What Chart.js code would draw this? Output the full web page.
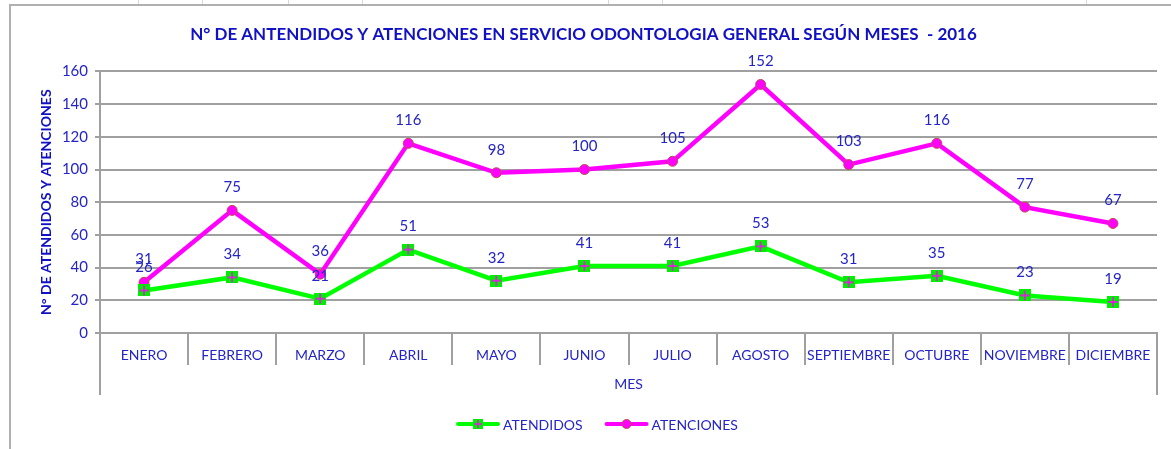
<!DOCTYPE html>
<html><head><meta charset="utf-8">
<script src="https://cdn.jsdelivr.net/npm/chart.js@4/dist/chart.umd.min.js"></script>
<style>html,body{margin:0;padding:0;background:#fff}#wrap{width:1171px;height:449px}</style>
</head><body><div id="wrap"><canvas id="c" width="1171" height="449"></canvas></div>
<script>
const categories = ['ENERO','FEBRERO','MARZO','ABRIL','MAYO','JUNIO','JULIO','AGOSTO','SEPTIEMBRE','OCTUBRE','NOVIEMBRE','DICIEMBRE'];
const atendidos = [26,34,21,51,32,41,41,53,31,35,23,19];
const atenciones = [31,75,36,116,98,100,105,152,103,116,77,67];
const yTicks = [0,20,40,60,80,100,120,140,160];
const titleText = 'N° DE ANTENDIDOS Y ATENCIONES EN SERVICIO ODONTOLOGIA GENERAL SEGÚN MESES  - 2016';
const yTitle = 'N° DE ATENDIDOS Y ATENCIONES';
const xTitle = 'MES';

const FONT = "Lato, 'Open Sans', sans-serif";
const BLUE = '#2424c8';
const GRID = '#a0a0a0';

function makeSquarePlus(){
  const c = document.createElement('canvas'); c.width = 12; c.height = 12;
  const g = c.getContext('2d');
  g.fillStyle = '#00ee00'; g.fillRect(0,0,12,12);
  g.strokeStyle = '#ff00ff'; g.lineWidth = 1.5;
  g.beginPath(); g.moveTo(6,1); g.lineTo(6,11); g.moveTo(1,6); g.lineTo(11,6); g.stroke();
  return c;
}
const sqPlus = makeSquarePlus();

const framePlugin = {
  id:'frame',
  beforeDraw(chart){
    const ctx = chart.ctx;
    ctx.save();
    ctx.fillStyle='#fff'; ctx.fillRect(0,0,chart.width,chart.height);
    ctx.strokeStyle='#b0b0b0'; ctx.lineWidth=2;
    ctx.beginPath(); ctx.moveTo(9,5); ctx.lineTo(chart.width,5); ctx.moveTo(10,5); ctx.lineTo(10,chart.height); ctx.stroke();
    ctx.strokeStyle='#d8d8d8'; ctx.lineWidth=1;
    ctx.beginPath();
    [138,202,288,362,608,662,1086].forEach(x=>{ctx.moveTo(x+0.5,0);ctx.lineTo(x+0.5,4);});
    ctx.stroke();
    ctx.restore();
  },
  afterDraw(chart){
    const ctx = chart.ctx, xs = chart.scales.x, a = chart.chartArea;
    ctx.save();
    ctx.strokeStyle = GRID; ctx.lineWidth = 2;
    ctx.beginPath();
    const n = categories.length;
    const half = (xs.getPixelForValue(1) - xs.getPixelForValue(0)) / 2;
    for (let i=0;i<=n;i++){
      const x = i<n ? xs.getPixelForValue(i) - half : xs.getPixelForValue(n-1) + half;
      const y2 = (i===0||i===n) ? a.bottom + 62 : a.bottom + 32;
      ctx.moveTo(Math.round(x), a.bottom); ctx.lineTo(Math.round(x), y2);
    }
    ctx.stroke();
    // data labels
    ctx.fillStyle = BLUE; ctx.font = "15px " + FONT; ctx.textAlign='center'; ctx.textBaseline='middle';
    chart.data.datasets.forEach((ds, di)=>{
      const meta = chart.getDatasetMeta(di);
      meta.data.forEach((pt, i)=>{ ctx.fillText(String(ds.data[i]), pt.x, pt.y - 23); });
    });
    // legend
    const items = chart.data.datasets.map(ds=>({label:ds.label, color:ds.borderColor, ds}));
    ctx.font = "14px " + FONT; ctx.textAlign='left';
    const lineW = 44, gap = 3, itemGap = 22;
    let total = 0;
    items.forEach((it,i)=>{ it.w = lineW + gap + ctx.measureText(it.label).width; total += it.w + (i?itemGap:0); });
    let x = 597 - total/2; const y = 424;
    items.forEach((it,i)=>{
      ctx.strokeStyle = it.color; ctx.lineWidth = 4; ctx.lineCap='round';
      ctx.beginPath(); ctx.moveTo(x+2,y); ctx.lineTo(x+lineW-2,y); ctx.stroke();
      const mx = x + lineW/2;
      if (i===0) { ctx.drawImage(sqPlus, mx-5, y-5, 10, 10); }
      else { ctx.beginPath(); ctx.arc(mx,y,4.5,0,Math.PI*2); ctx.fillStyle='#ff00ff'; ctx.fill(); ctx.strokeStyle='#c0504d'; ctx.lineWidth=1; ctx.stroke(); }
      ctx.fillStyle = BLUE;
      ctx.fillText(it.label, x + lineW + gap, y+1);
      x += it.w + itemGap;
    });
    ctx.restore();
  }
};

new Chart(document.getElementById('c'), {
  type:'line',
  data:{
    labels: categories,
    datasets:[
      {label:'ATENDIDOS', data: atendidos, borderColor:'#00ff00', backgroundColor:'#00ff00', borderWidth:4.5,
       pointStyle: sqPlus, pointRadius:6, pointHoverRadius:6, tension:0},
      {label:'ATENCIONES', data: atenciones, borderColor:'#ff00ff', backgroundColor:'#ff00ff', borderWidth:4.5,
       pointStyle:'circle', pointRadius:5, pointBorderColor:'#c0504d', pointBackgroundColor:'#ff00ff', pointBorderWidth:1, tension:0}
    ]
  },
  options:{
    responsive:false, animation:false, devicePixelRatio:1,
    layout:{padding:{left:10,right:14,top:0,bottom:56}},
    plugins:{
      legend:{display:false}, tooltip:{enabled:false},
      title:{display:true, text:titleText, color:'#1010c4', font:{family:FONT, size:17, weight:'bold'}, padding:{top:24,bottom:27}}
    },
    scales:{
      x:{
        offset:true,
        grid:{display:false, drawTicks:false},
        border:{display:true, color:GRID, width:2},
        ticks:{color:BLUE, font:{family:FONT, size:14}, padding:14, maxRotation:0, autoSkip:false},
        title:{display:true, text:xTitle, color:BLUE, font:{family:FONT, size:14}, padding:{top:0,bottom:0}},
        afterFit(s){ s.height = 60; }
      },
      y:{
        min:0, max:160,
        afterBuildTicks(s){ s.ticks = yTicks.map(v=>({value:v})); },
        grid:{color:GRID, lineWidth:2, tickLength:5, tickColor:GRID},
        border:{display:true, color:GRID, width:2},
        ticks:{color:BLUE, font:{family:FONT, size:15}, padding:7},
        title:{display:true, text:yTitle, color:'#1010c4', font:{family:FONT, size:14, weight:'bold'}, padding:{top:28,bottom:0}},
        afterFit(s){ s.width = 90; }
      }
    }
  },
  plugins:[framePlugin]
});
</script></body></html>
